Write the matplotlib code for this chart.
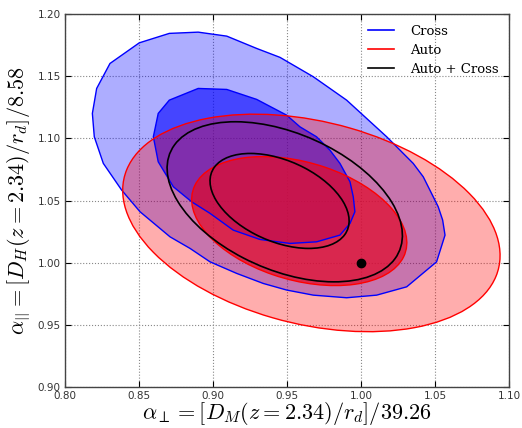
import numpy as np
import matplotlib
matplotlib.use("Agg")
import matplotlib.pyplot as plt
from matplotlib.patches import Polygon, Ellipse
from matplotlib.lines import Line2D

plt.rcParams['mathtext.fontset'] = 'cm'

# ---- data ----
# Cross contours (jagged polygons from the grid-based likelihood)
cross_outer_x = [0.8185, 0.8214, 0.8304, 0.8502, 0.8705, 0.8900, 0.9093, 0.9295, 0.9453, 0.9678,
                 0.9903, 1.0174, 1.0353, 1.0421, 1.0522, 1.0552, 1.0568, 1.0511, 1.0309, 1.0106,
                 0.9903, 0.9678, 0.9498, 0.9340, 0.9160, 0.8980, 0.8845, 0.8710, 0.8507, 0.8383,
                 0.8259, 0.8198]
cross_outer_y = [1.1201, 1.1402, 1.1603, 1.1769, 1.1845, 1.1855, 1.1823, 1.1724, 1.1652, 1.1496,
                 1.1308, 1.1013, 1.0799, 1.0691, 1.0450, 1.0343, 1.0222, 1.0007, 0.9806, 0.9739,
                 0.9718, 0.9739, 0.9780, 0.9833, 0.9914, 1.0007, 1.0115, 1.0208, 1.0410, 1.0584,
                 1.0799, 1.1013]
cross_inner_x = [0.8597, 0.8630, 0.8705, 0.8900, 0.9093, 0.9295, 0.9498, 0.9588, 0.9700, 0.9790,
                 0.9858, 0.9926, 0.9948, 0.9959, 0.9926, 0.9858, 0.9700, 0.9520, 0.9318, 0.9137,
                 0.8980, 0.8856, 0.8732, 0.8630]
cross_inner_y = [1.1013, 1.1201, 1.1308, 1.1402, 1.1394, 1.1314, 1.1187, 1.1093, 1.1013, 1.0906,
                 1.0799, 1.0651, 1.0530, 1.0410, 1.0316, 1.0222, 1.0168, 1.0155, 1.0187, 1.0262,
                 1.0397, 1.0490, 1.0611, 1.0812]

# Auto and Auto+Cross contours: (center x, center y, half-extent x, half-extent y, correlation)
auto_cx = [0.9665, 0.9583]
auto_cy = [1.0320, 1.0335]
auto_sx = [0.1275, 0.0727]
auto_sy = [0.0875, 0.0519]
auto_rho = [-0.30, -0.335]

comb_cx = [0.9485, 0.9450]
comb_cy = [1.0490, 1.0497]
comb_sx = [0.0795, 0.0470]
comb_sy = [0.0644, 0.0382]
comb_rho = [-0.42, -0.42]

fiducial = (1.0, 1.0)

xticks = [0.80, 0.85, 0.90, 0.95, 1.00, 1.05, 1.10]
yticks = [0.90, 0.95, 1.00, 1.05, 1.10, 1.15, 1.20]
legend_labels = ["Cross", "Auto", "Auto + Cross"]


def ellipse_patch(cx, cy, sx, sy, rho, **kw):
    cov = np.array([[sx * sx, rho * sx * sy], [rho * sx * sy, sy * sy]])
    vals, vecs = np.linalg.eigh(cov)
    order = np.argsort(vals)[::-1]
    vals, vecs = vals[order], vecs[:, order]
    ang = np.degrees(np.arctan2(vecs[1, 0], vecs[0, 0]))
    return Ellipse((cx, cy), 2 * np.sqrt(vals[0]), 2 * np.sqrt(vals[1]), angle=ang, **kw)


fig = plt.figure(figsize=(5.22, 4.28), dpi=100)
ax = fig.add_axes([0.1245, 0.0958, 0.8505, 0.8712])

outer_xy = np.column_stack([cross_outer_x, cross_outer_y])
inner_xy = np.column_stack([cross_inner_x, cross_inner_y])

# Cross fills
ax.add_patch(Polygon(outer_xy, closed=True, facecolor=(0, 0, 1, 0.32), edgecolor='none', zorder=2))
ax.add_patch(Polygon(inner_xy, closed=True, facecolor=(0, 0, 1, 0.60), edgecolor='none', zorder=2))

# Auto fills
auto_fc = [(1, 0, 0, 0.32), (0.88, 0.05, 0.18, 0.75)]
for i in range(2):
    ax.add_patch(ellipse_patch(auto_cx[i], auto_cy[i], auto_sx[i], auto_sy[i], auto_rho[i],
                               facecolor=auto_fc[i], edgecolor='none', zorder=3))

# edges on top
ax.add_patch(Polygon(outer_xy, closed=True, facecolor='none', edgecolor='blue', lw=1.0, zorder=5))
ax.add_patch(Polygon(inner_xy, closed=True, facecolor='none', edgecolor='blue', lw=1.0, zorder=5))
for i in range(2):
    ax.add_patch(ellipse_patch(auto_cx[i], auto_cy[i], auto_sx[i], auto_sy[i], auto_rho[i],
                               facecolor='none', edgecolor='red', lw=1.0, zorder=5))

# Auto + Cross
for i in range(2):
    ax.add_patch(ellipse_patch(comb_cx[i], comb_cy[i], comb_sx[i], comb_sy[i], comb_rho[i],
                               facecolor='none', edgecolor='black', lw=1.2, zorder=6))

ax.plot([fiducial[0]], [fiducial[1]], 'o', color='black', markersize=6, zorder=7)

ax.set_xlim(0.80, 1.10)
ax.set_ylim(0.90, 1.20)
ax.set_xticks(xticks)
ax.set_yticks(yticks)
ax.set_xticklabels([f"{v:.2f}" for v in xticks])
ax.set_yticklabels([f"{v:.2f}" for v in yticks])
ax.tick_params(direction='in', top=True, right=True, labelsize=7.5, length=4,
               labelcolor='#333333', pad=3)
ax.grid(True, color='#888888', linestyle=':', linewidth=0.8)
ax.set_axisbelow(True)
for s in ax.spines.values():
    s.set_color('#444444')
    s.set_linewidth(1.0)

ax.set_xlabel(r'$\alpha_\perp = [D_M(z=2.34)/r_d]/39.26$', fontsize=16, labelpad=-1)
ax.set_ylabel(r'$\alpha_{||} = [D_H(z=2.34)/r_d]/8.58$', fontsize=16, labelpad=4)

handles = [Line2D([], [], color='blue', lw=1.2),
           Line2D([], [], color='red', lw=1.2),
           Line2D([], [], color='black', lw=1.2)]
ax.legend(handles, legend_labels, loc='upper right', frameon=False,
          prop={'family': 'DejaVu Serif', 'size': 9.5}, handlelength=2.0,
          borderaxespad=0.4, labelspacing=0.45, handletextpad=1.2)

fig.savefig('out.png', dpi=100)
